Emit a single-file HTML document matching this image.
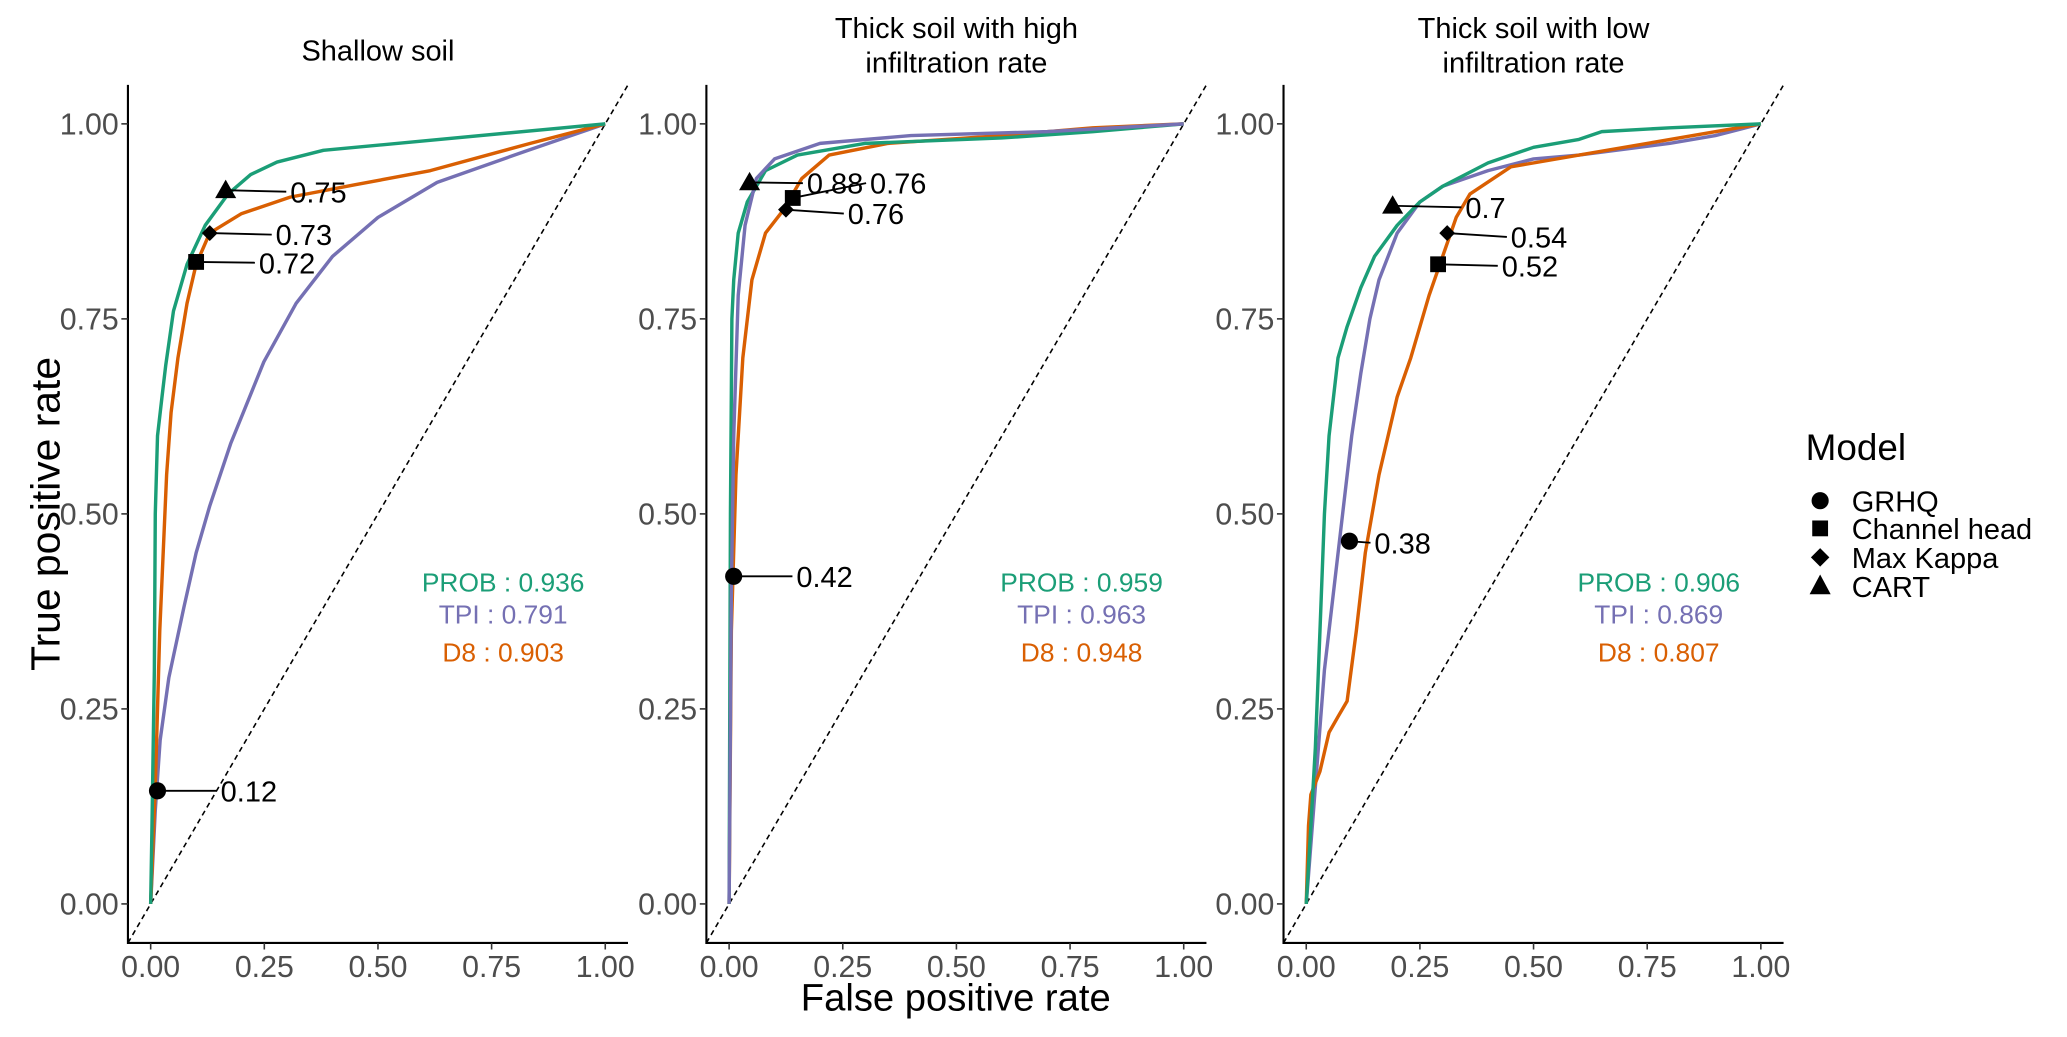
<!DOCTYPE html>
<html><head><meta charset="utf-8">
<style>
html,body{margin:0;padding:0;background:#fff;}
svg{display:block;font-family:"Liberation Sans",Arial,sans-serif;}
</style></head>
<body>
<svg id="chart" width="2067" height="1037" viewBox="0 0 1568 787" xmlns="http://www.w3.org/2000/svg">
<rect width="1568" height="787" fill="#fff"/>
<text transform="translate(45,390) rotate(-90)" text-anchor="middle" font-size="31" fill="#000">True positive rate</text>
<text x="725" y="767" text-anchor="middle" font-size="29" fill="#000">False positive rate</text>
<g>
<text x="1370" y="349" font-size="28" fill="#000">Model</text>
<circle cx="1381" cy="380" r="6.5" fill="#000"/>
<text x="1405" y="388" font-size="22">GRHQ</text>
<rect x="1375" y="395" width="12" height="12" fill="#000"/>
<text x="1405" y="409" font-size="22">Channel head</text>
<polygon points="1381,416 1388,423 1381,430 1374,423" fill="#000"/>
<text x="1405" y="431" font-size="22">Max Kappa</text>
<polygon points="1381,436 1389,451 1373,451" fill="#000"/>
<text x="1405" y="453" font-size="22">CART</text>
</g>
</svg>
<script>
const panelTitles=[["Shallow soil"],["Thick soil with high","infiltration rate"],["Thick soil with low","infiltration rate"]];
const tickValues=[0,0.25,0.5,0.75,1];
const tickLabels=["0.00","0.25","0.50","0.75","1.00"];
const aucProb=["0.936","0.959","0.906"];
const aucTpi=["0.791","0.963","0.869"];
const aucD8=["0.903","0.948","0.807"];
// panel 1
const p1ProbX=[0,0.003,0.008,0.01,0.015,0.025,0.033,0.05,0.08,0.12,0.17,0.22,0.278,0.38,1];
const p1ProbY=[0,0.1,0.3,0.5,0.6,0.65,0.69,0.76,0.82,0.87,0.91,0.935,0.951,0.966,1];
const p1D8X=[0,0.01,0.02,0.035,0.045,0.06,0.08,0.1,0.13,0.2,0.307,0.45,0.615,0.835,1];
const p1D8Y=[0,0.15,0.35,0.55,0.63,0.7,0.77,0.82,0.86,0.885,0.906,0.922,0.94,0.975,1];
const p1TpiX=[0,0.01,0.021,0.04,0.073,0.1,0.13,0.176,0.249,0.32,0.4,0.5,0.63,0.83,1];
const p1TpiY=[0,0.12,0.21,0.29,0.38,0.45,0.51,0.59,0.695,0.77,0.83,0.88,0.925,0.966,1];
// panel 2
const p2ProbX=[0,0.003,0.006,0.01,0.02,0.04,0.08,0.15,0.3,0.6,0.8,1];
const p2ProbY=[0,0.5,0.75,0.8,0.86,0.9,0.94,0.96,0.975,0.982,0.99,1];
const p2TpiX=[0,0.005,0.01,0.02,0.035,0.06,0.1,0.2,0.4,0.7,1];
const p2TpiY=[0,0.4,0.6,0.78,0.87,0.93,0.955,0.975,0.985,0.99,1];
const p2D8X=[0,0.005,0.015,0.03,0.05,0.08,0.12,0.16,0.22,0.35,0.6,0.8,1];
const p2D8Y=[0,0.35,0.55,0.7,0.8,0.86,0.89,0.93,0.96,0.975,0.985,0.995,1];
// panel 3
const p3ProbX=[0,0.01,0.02,0.03,0.04,0.05,0.07,0.09,0.12,0.15,0.2,0.25,0.3,0.4,0.5,0.6,0.65,0.8,1];
const p3ProbY=[0,0.1,0.2,0.35,0.5,0.6,0.7,0.74,0.79,0.83,0.87,0.9,0.92,0.95,0.97,0.98,0.99,0.995,1];
const p3TpiX=[0,0.02,0.04,0.06,0.08,0.1,0.12,0.14,0.16,0.2,0.25,0.3,0.4,0.5,0.6,0.8,0.9,1];
const p3TpiY=[0,0.15,0.3,0.4,0.5,0.6,0.68,0.75,0.8,0.86,0.9,0.92,0.94,0.955,0.96,0.975,0.985,1];
const p3D8X=[0,0.005,0.01,0.03,0.05,0.07,0.09,0.11,0.13,0.16,0.2,0.23,0.27,0.3,0.33,0.36,0.45,0.6,0.7,0.85,1];
const p3D8Y=[0,0.1,0.14,0.17,0.22,0.24,0.26,0.35,0.45,0.55,0.65,0.7,0.78,0.83,0.88,0.91,0.945,0.96,0.97,0.985,1];
// markers
const markerShapes=["circle","triangle","diamond","square"];
const p1MarkX=[0.015,0.165,0.13,0.1], p1MarkY=[0.145,0.915,0.86,0.823];
const p1Labels=["0.12","0.75","0.73","0.72"], p1LabX=[0.154,0.307,0.275,0.238], p1LabY=[0.145,0.913,0.858,0.822];
const p2MarkX=[0.01,0.045,0.125,0.14], p2MarkY=[0.42,0.925,0.89,0.905];
const p2Labels=["0.42","0.88","0.76","0.76"], p2LabX=[0.148,0.171,0.261,0.31], p2LabY=[0.42,0.924,0.885,0.924];
const p3MarkX=[0.095,0.19,0.31,0.29], p3MarkY=[0.465,0.895,0.86,0.82];
const p3Labels=["0.38","0.7","0.54","0.52"], p3LabX=[0.15,0.35,0.45,0.43], p3LabY=[0.463,0.893,0.855,0.818];

const panels=[
 {x0:114,probX:p1ProbX,probY:p1ProbY,tpiX:p1TpiX,tpiY:p1TpiY,d8X:p1D8X,d8Y:p1D8Y,mx:p1MarkX,my:p1MarkY,ml:p1Labels,lx:p1LabX,ly:p1LabY},
 {x0:553,probX:p2ProbX,probY:p2ProbY,tpiX:p2TpiX,tpiY:p2TpiY,d8X:p2D8X,d8Y:p2D8Y,mx:p2MarkX,my:p2MarkY,ml:p2Labels,lx:p2LabX,ly:p2LabY},
 {x0:991,probX:p3ProbX,probY:p3ProbY,tpiX:p3TpiX,tpiY:p3TpiY,d8X:p3D8X,d8Y:p3D8Y,mx:p3MarkX,my:p3MarkY,ml:p3Labels,lx:p3LabX,ly:p3LabY}
];
const NS="http://www.w3.org/2000/svg";
const svg=document.getElementById("chart");
const W=345,Y0=686,H=592;
function mk(tag,attrs,parent){const e=document.createElementNS(NS,tag);for(const k in attrs)e.setAttribute(k,attrs[k]);(parent||svg).appendChild(e);return e;}
panels.forEach((p,i)=>{
 const sx=v=>p.x0+v*W, sy=v=>Y0-v*H;
 const g=mk("g",{});
 
 
 const cx=p.x0+W/2;
 panelTitles[i].forEach((t,j)=>{
  const tt=mk("text",{x:cx,y:(panelTitles[i].length==1?46:29)+j*26,"text-anchor":"middle","font-size":"22",fill:"#000"},g);
  tt.textContent=t;
  
  
 });
 const ax=mk("path",{d:`M${sx(-0.05)},${sy(1.05)}V${sy(-0.05)}H${sx(1.05)}`,stroke:"#000","stroke-width":1.6,fill:"none"},g);
 
 
 tickValues.forEach((v,k)=>{
  mk("line",{x1:sx(-0.05)-5,x2:sx(-0.05),y1:sy(v),y2:sy(v),stroke:"#333","stroke-width":1.2},g);
  mk("line",{x1:sx(v),x2:sx(v),y1:sy(-0.05),y2:sy(-0.05)+5,stroke:"#333","stroke-width":1.2},g);
  const yl=mk("text",{x:sx(-0.05)-7,y:sy(v)+8,"text-anchor":"end","font-size":"23",fill:"#4d4d4d"},g);
  yl.textContent=tickLabels[k];
  
  
  const xl=mk("text",{x:sx(v),y:sy(-0.05)+26,"text-anchor":"middle","font-size":"23",fill:"#4d4d4d"},g);
  xl.textContent=tickLabels[k];
  
  
 });
 const dg=mk("line",{x1:sx(-0.05),y1:sy(-0.05),x2:sx(1.05),y2:sy(1.05),stroke:"#000","stroke-width":1.2,"stroke-dasharray":"4,3"},g);
 
 
 const series=[["tpi",p.tpiX,p.tpiY,"#7570b3"],["d8",p.d8X,p.d8Y,"#d95f02"],["prob",p.probX,p.probY,"#1b9e77"]];
 if(i==1) series.push(series.shift());
 series.forEach(s=>{
  const d=s[1].map((x,k)=>(k?"L":"M")+sx(x).toFixed(1)+","+sy(s[2][k]).toFixed(1)).join("");
  const pl=mk("path",{d:d,stroke:s[3],"stroke-width":2.6,fill:"none","stroke-linejoin":"round"},g);
  
  
 });
 p.mx.forEach((x,k)=>{
  const X=sx(x),Y=sy(p.my[k]),LX=sx(p.lx[k]),LY=sy(p.ly[k]);
  const ln=mk("line",{x1:X,y1:Y,x2:LX-3,y2:LY,stroke:"#000","stroke-width":1.4},g);
  
  
  let m;const sh=markerShapes[k];
  if(sh=="circle") m=mk("circle",{cx:X,cy:Y,r:6.5,fill:"#000"},g);
  else if(sh=="square") m=mk("rect",{x:X-6,y:Y-6,width:12,height:12,fill:"#000"},g);
  else if(sh=="diamond") m=mk("polygon",{points:`${X},${Y-6} ${X+6},${Y} ${X},${Y+6} ${X-6},${Y}`,fill:"#000"},g);
  else m=mk("polygon",{points:`${X},${Y-8} ${X+8},${Y+6} ${X-8},${Y+6}`,fill:"#000"},g);
  
  
  const t=mk("text",{x:LX,y:LY+8,"font-size":"22",fill:"#000"},g);
  t.textContent=p.ml[k];
  
  
 });
 const ac=cx+95;
 [["PROB : "+aucProb[i],"#1b9e77",449],["TPI : "+aucTpi[i],"#7570b3",473],["D8 : "+aucD8[i],"#d95f02",502]].forEach(a=>{
  const t=mk("text",{x:ac,y:a[2],"text-anchor":"middle","font-size":"20",fill:a[1]},g);
  t.textContent=a[0];
  
  
 });
});
</script>
</body></html>
